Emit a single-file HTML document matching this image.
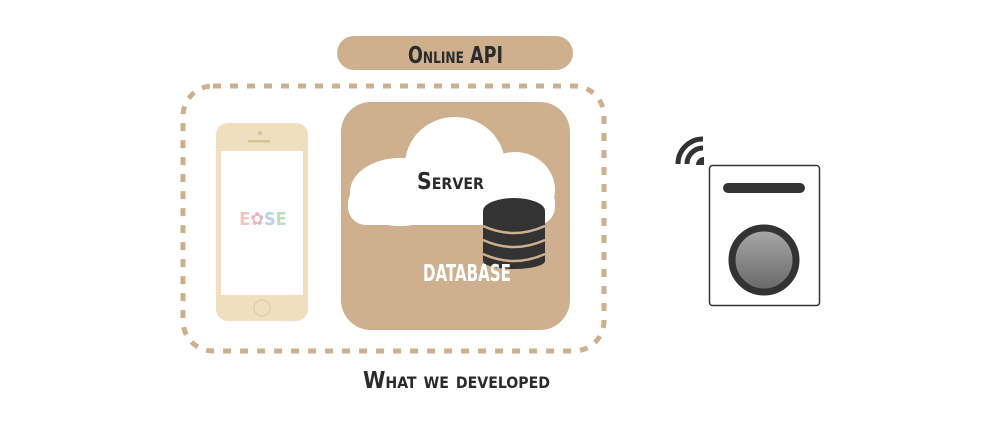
<!DOCTYPE html>
<html><head><style>
html,body{margin:0;padding:0;background:#fff;width:1000px;height:434px;overflow:hidden}
text{font-family:"DejaVu Sans Condensed","Liberation Sans",sans-serif;font-weight:bold}
</style></head><body>
<svg width="1000" height="434" viewBox="0 0 1000 434" xmlns="http://www.w3.org/2000/svg">
<defs>
<linearGradient id="g" x1="0" y1="0" x2="0" y2="1"><stop offset="0" stop-color="#aaa"/><stop offset="1" stop-color="#666"/></linearGradient>
</defs>
<rect x="337" y="36" width="236" height="34" rx="17" fill="#cfb08e"/>
<text x="408" y="63" font-size="23" fill="#2b2b2b" font-variant="small-caps" textLength="95" lengthAdjust="spacingAndGlyphs">Online API</text>
<rect x="183" y="86" width="421" height="265" rx="30" fill="none" stroke="#cfb08e" stroke-width="5" stroke-dasharray="8 9"/>
<!-- phone -->
<rect x="216" y="123" width="92" height="198" rx="12" fill="#f0dfbf"/>
<rect x="221" y="151" width="82" height="144" fill="#fff"/>
<circle cx="260" cy="133" r="2" fill="#d8c293"/>
<rect x="248" y="140" width="22" height="2.5" fill="#d8c293"/>
<circle cx="262" cy="308" r="8" fill="none" stroke="#e4cfa6" stroke-width="1.5"/>
<text x="263" y="225" text-anchor="middle" font-size="18" fill="#f0b5b5" font-weight="normal" opacity="0.8">E<tspan fill="#e79fb5">✿</tspan><tspan fill="#a9c4ee">S</tspan><tspan fill="#a8d9a8">E</tspan></text>
<!-- server box -->
<rect x="341" y="102" width="229" height="228" rx="30" fill="#cfb08e"/>
<g fill="#fff">
<ellipse cx="455" cy="165" rx="50" ry="48"/>
<ellipse cx="400" cy="192" rx="50" ry="34"/>
<ellipse cx="515" cy="190" rx="40" ry="38"/>
<rect x="348" y="185" width="207" height="40" rx="18"/>
</g>
<text x="417" y="189" font-size="23" fill="#2b2b2b" font-variant="small-caps" textLength="67" lengthAdjust="spacingAndGlyphs">Server</text>
<!-- db -->
<g fill="#333">
<ellipse cx="514" cy="211" rx="31" ry="13"/>
<rect x="483" y="211" width="62" height="50"/>
<ellipse cx="514" cy="261" rx="31" ry="8"/>
</g>
<g stroke="#cfb08e" stroke-width="2.5" fill="none">
<path d="M483 226 Q514 240 545 226"/>
<path d="M483 240 Q514 254 545 240"/>
<path d="M483 254 Q514 268 545 254"/>
</g>
<text x="423" y="281" font-size="23" fill="#fff" textLength="88" lengthAdjust="spacingAndGlyphs">DATABASE</text>
<text x="363" y="388" font-size="23" fill="#2b2b2b" font-variant="small-caps" textLength="187" lengthAdjust="spacingAndGlyphs">What we developed</text>
<!-- wifi -->
<g fill="none" stroke="#333" stroke-width="5">
<path d="M678 164 A25 25 0 0 1 703 139"/>
<path d="M687 164 A16 16 0 0 1 703 148"/>
</g>
<path d="M696 165 A8 8 0 0 1 704 157 L704 165Z" fill="#333"/>
<!-- device -->
<rect x="709.5" y="165.5" width="110" height="140" rx="3" fill="#fff" stroke="#333" stroke-width="1.5"/>
<rect x="723" y="183" width="82" height="10" rx="5" fill="#333"/>
<circle cx="764" cy="260" r="32" fill="url(#g)" stroke="#333" stroke-width="7"/>
</svg>
</body></html>
